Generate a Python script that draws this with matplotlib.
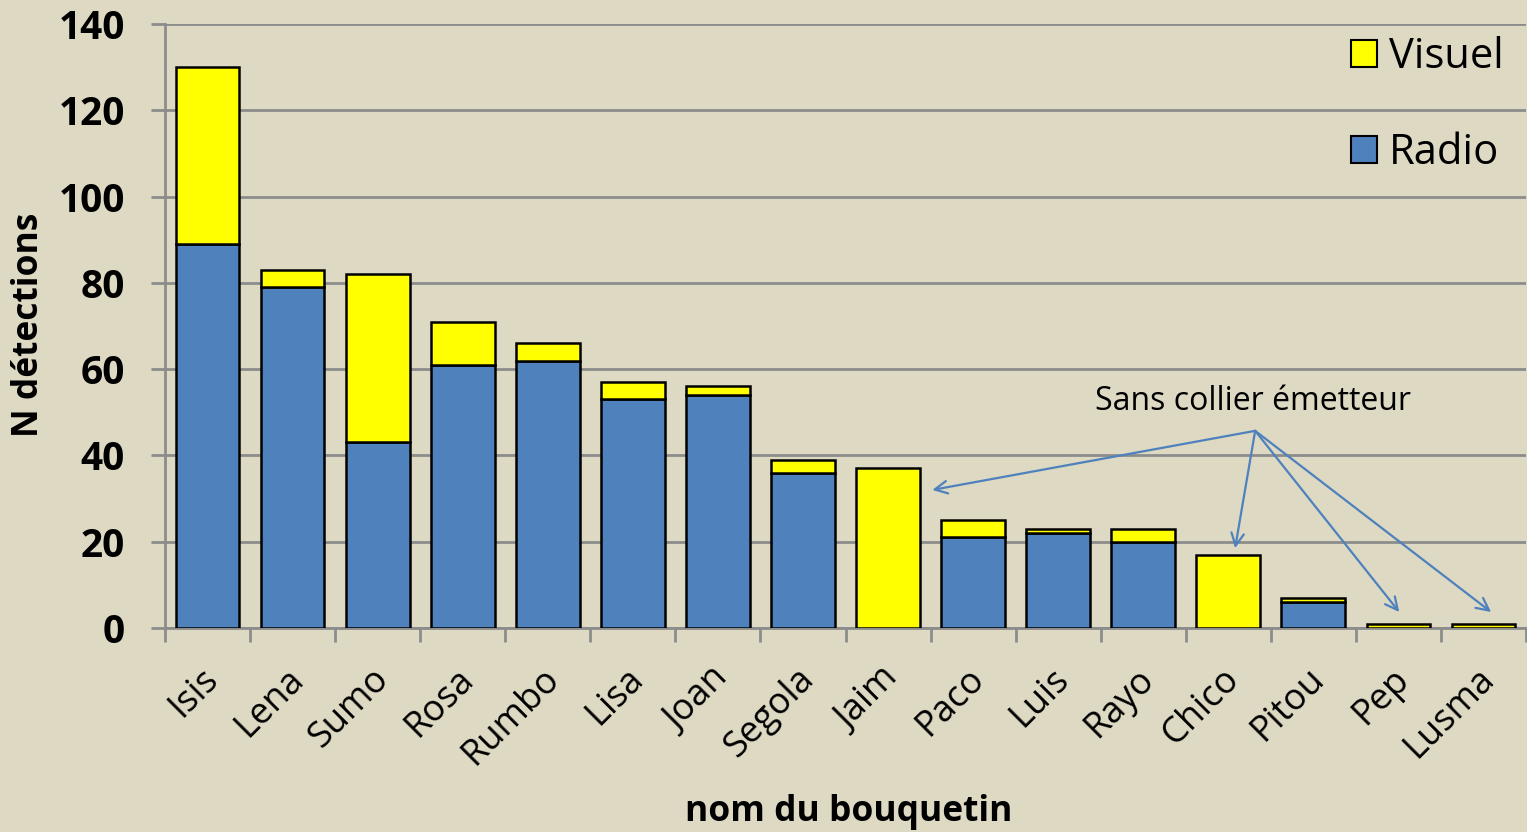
import matplotlib
matplotlib.use("Agg")
import matplotlib.pyplot as plt
import matplotlib.transforms as mtransforms
import numpy as np
from matplotlib.patches import Patch

plt.rcParams['font.family'] = ['Open Sans', 'DejaVu Sans']

names = ["Isis", "Lena", "Sumo", "Rosa", "Rumbo", "Lisa", "Joan", "Segola",
         "Jaim", "Paco", "Luis", "Rayo", "Chico", "Pitou", "Pep", "Lusma"]
radio = [89, 79, 43, 61, 62, 53, 54, 36, 0, 21, 22, 20, 0, 6, 0, 0]
visuel = [41, 4, 39, 10, 4, 4, 2, 3, 37, 4, 1, 3, 17, 1, 1, 1]
yticks = [0, 20, 40, 60, 80, 100, 120, 140]
annot_text = "Sans collier émetteur"
annot_targets = ["Jaim", "Chico", "Pep", "Lusma"]

bg = "#DDD9C3"
blue = "#4F81BD"
yellow = "#FFFF00"
grid = "#8C8C8C"

W, H = 1527, 832
fig = plt.figure(figsize=(W / 100, H / 100), dpi=100, facecolor=bg)
ax = fig.add_axes([165 / W, (H - 628) / H, (1526 - 165) / W, (628 - 24) / H])
ax.set_facecolor(bg)

x = np.arange(len(names))
ax.bar(x, radio, width=0.75, color=blue, edgecolor="black", linewidth=1.8, zorder=3, label="Radio")
ax.bar(x, visuel, width=0.75, bottom=radio, color=yellow, edgecolor="black", linewidth=1.8, zorder=3, label="Visuel")

ax.set_xlim(-0.5, len(names) - 0.5)
ax.set_ylim(0, 140)
ax.set_yticks(yticks)
ax.set_yticklabels([str(v) for v in yticks], fontsize=28, fontweight="bold")
for yv in yticks:
    ax.axhline(yv, color=grid, lw=2, zorder=1)

ax.set_xticks(np.arange(len(names) + 1) - 0.5)
ax.set_xticklabels([])
ax.set_xticks(x, minor=True)
ax.set_xticklabels(names, minor=True, rotation=45, ha="right", va="center",
                   rotation_mode="anchor", fontsize=26)
ax.tick_params(axis="x", which="minor", length=0, pad=33)
ax.tick_params(axis="x", which="major", length=10, width=2, color=grid, direction="out")
ax.tick_params(axis="y", length=10, width=2, color=grid, direction="out", pad=19)
offset = mtransforms.ScaledTranslation(6 / 100, 0, fig.dpi_scale_trans)
for lbl in ax.get_xticklabels(minor=True):
    lbl.set_transform(lbl.get_transform() + offset)

for s in ["top", "right"]:
    ax.spines[s].set_visible(False)
ax.spines["left"].set_color(grid)
ax.spines["left"].set_linewidth(2)
ax.spines["bottom"].set_color(grid)
ax.spines["bottom"].set_linewidth(2)

fig.text(29 / W, 1 - 325 / H, "N détections", rotation=90, ha="center", va="center",
         fontsize=25.5, fontweight="bold")
fig.text(849 / W, 1 - 812 / H, "nom du bouquetin", ha="center", va="center",
         fontsize=25.5, fontweight="bold")

handles = [Patch(facecolor=yellow, edgecolor="black", linewidth=1.5),
           Patch(facecolor=blue, edgecolor="black", linewidth=1.5)]
leg = ax.legend(handles, ["Visuel", "Radio"], loc="upper right",
                bbox_to_anchor=(1504 / W, 1 - 36 / H), bbox_transform=fig.transFigure,
                frameon=False, fontsize=30, labelspacing=1.3, handlelength=0.62,
                handleheight=0.62, handletextpad=0.3, borderaxespad=0, borderpad=0)

# annotation
tx, ty = 12.29, 52.6
ax.text(tx, ty, annot_text, ha="center", va="center", fontsize=23, zorder=5)
sx, sy = 12.316, 45.7
ends = {"Jaim": (8.52, 32.0), "Chico": (12.08, 18.5), "Pep": (14.01, 3.7), "Lusma": (15.09, 3.7)}
for n in annot_targets:
    ex, ey = ends[n]
    ax.annotate("", xy=(ex, ey), xytext=(sx, sy),
                arrowprops=dict(arrowstyle="->,head_length=0.9,head_width=0.45",
                                color=blue, lw=1.6, shrinkA=0, shrinkB=0), zorder=5)

fig.savefig("out.png", dpi=100, facecolor=bg)
